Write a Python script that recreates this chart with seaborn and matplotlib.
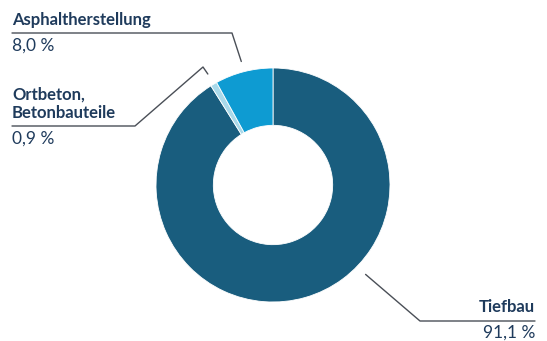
import numpy as np
import matplotlib
matplotlib.use("Agg")
import matplotlib.pyplot as plt
import seaborn as sns

categories = ["Tiefbau", "Ortbeton,\nBetonbauteile", "Asphaltherstellung"]
values = [91.1, 0.9, 8.0]
value_labels = ["91,1 %", "0,9 %", "8,0 %"]
colors = ["#195d7e", "#a9d9ea", "#0e9bd2"]

sns.set_theme(style="white")
plt.rcParams["font.family"] = ["Lato", "DejaVu Sans"]

W, H = 547, 341
fig = plt.figure(figsize=(W / 100, H / 100), dpi=100)
ax = fig.add_axes([0, 0, 1, 1])

cx, cy, R = 273, H - 185, 117
wedges, _ = ax.pie(values, colors=colors, startangle=90, counterclock=False,
                   center=(cx, cy), radius=R,
                   wedgeprops=dict(width=R * 0.49, edgecolor="white", linewidth=0.6),
                   frame=True)
ax.set_xlim(0, W)
ax.set_ylim(0, H)
ax.set_aspect("equal")
ax.axis("off")

txt = "#1f3b5c"
lc = "#4a4f57"
fs_name = 12
fs_val = 12.5

def pt(w, r, ang=None):
    a = np.deg2rad(ang if ang is not None else (w.theta1 + w.theta2) / 2)
    return cx + r * np.cos(a), cy + r * np.sin(a)

# Asphaltherstellung
x0, y0 = pt(wedges[2], R * 1.09)
ax.plot([12, 232, x0], [H - 33, H - 33, y0], color=lc, lw=1.0)
ax.text(12, H - 28, categories[2], fontsize=fs_name, fontweight="bold", color=txt, va="bottom")
ax.text(12, H - 38, value_labels[2], fontsize=fs_val, color=txt, va="top")

# Ortbeton
x1, y1 = pt(wedges[1], R * 1.1)
ax.plot([12, 135, 203, x1], [H - 126, H - 126, H - 67, y1], color=lc, lw=1.0)
ax.text(12, H - 121, categories[1], fontsize=fs_name, fontweight="bold", color=txt,
        va="bottom", linespacing=1.2)
ax.text(12, H - 131, value_labels[1], fontsize=fs_val, color=txt, va="top")

# Tiefbau
x2, y2 = pt(wedges[0], R * 1.1, ang=-44)
ax.plot([x2, 420, 535], [y2, H - 321, H - 321], color=lc, lw=1.0)
ax.text(535, H - 315, categories[0], fontsize=fs_name, fontweight="bold", color=txt,
        va="bottom", ha="right")
ax.text(535, H - 325, value_labels[0], fontsize=fs_val, color=txt, va="top", ha="right")

fig.savefig("out.png", dpi=100, facecolor="white")
